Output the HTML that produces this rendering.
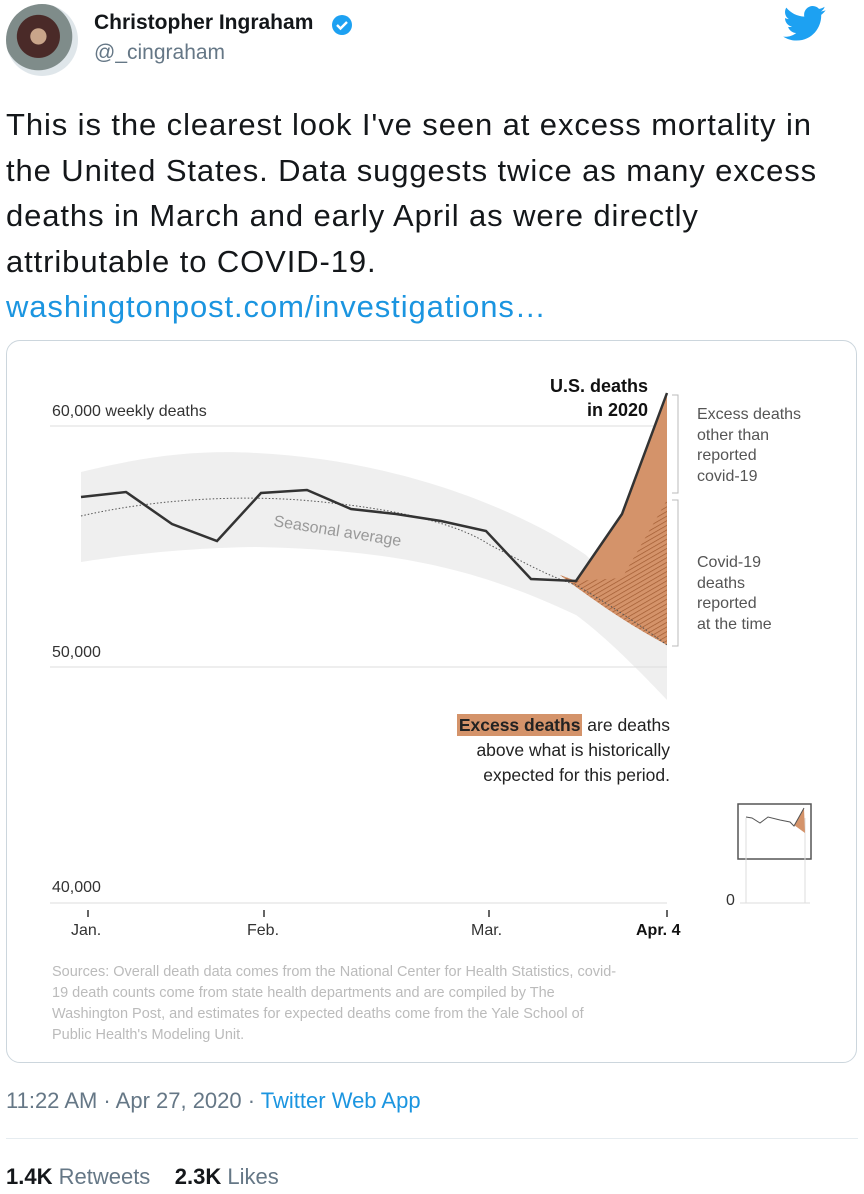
<!DOCTYPE html>
<html><head><meta charset="utf-8"><style>
body{margin:0;width:864px;height:1194px;background:#fff;font-family:"Liberation Sans",sans-serif;position:relative;overflow:hidden}
.a{position:absolute;white-space:nowrap}
</style></head><body>
<div class="a" style="left:6px;top:4px;width:72px;height:72px;border-radius:50%;background:radial-gradient(circle at 45% 45%,#c9a58a 0 14%,#4a2a28 15% 38%,#7f8c8a 39% 60%,#dfe6ea 61%)"></div>
<div class="a" style="left:94px;top:11px;font-size:21px;font-weight:bold;color:#14171a">Christopher Ingraham</div>
<svg class="a" style="left:331px;top:14px" width="22" height="22" viewBox="0 0 22 22"><circle cx="11" cy="11" r="10" fill="#1da1f2"/><path d="M6 11l3.5 3.5L16 8" stroke="#fff" stroke-width="2.4" fill="none"/></svg>
<div class="a" style="left:94px;top:41px;font-size:21px;color:#657786">@_cingraham</div>
<svg class="a" style="left:783px;top:6px" width="44" height="36" viewBox="0 0 24 20"><path fill="#1da1f2" d="M23.6 2.3c-.9.4-1.8.6-2.8.8 1-.6 1.8-1.6 2.1-2.7-.9.6-2 1-3.1 1.200C18.9.6 17.6 0 16.3 0c-2.7 0-4.8 2.2-4.800 4.8 0 .4 0 .8.1 1.1C7.5 5.7 4 3.8 1.6.9c-.4.7-.7 1.6-.7 2.4 0 1.7.9 3.2 2.2 4-.8 0-1.5-.2-2.2-.6v.1c0 2.3 1.7 4.3 3.9 4.7-.4.1-.8.2-1.3.2-.3 0-.6 0-.9-.1.6 1.900 2.4 3.3 4.5 3.4-1.7 1.3-3.7 2.1-6 2.1-.4 0-.8 0-1.2-.1 2.1 1.4 4.7 2.2 7.4 2.2 8.9 0 13.700-7.4 13.7-13.7v-.6c.9-.7 1.8-1.6 2.4-2.5z"/></svg>
<div class="a" style="left:6px;top:102px;font-size:31px;line-height:45.5px;color:#14171a;letter-spacing:0.9px">This is the clearest look I've seen at excess mortality in<br>the United States. Data suggests twice as many excess<br>deaths in March and early April as were directly<br>attributable to COVID-19.<br><span style="color:#1b95e0">washingtonpost.com/investigations…</span></div>
<div class="a" style="left:6px;top:340px;width:849px;height:721px;border:1px solid #ccd6dd;border-radius:14px"></div>
<svg class="a" style="left:0;top:0" width="864" height="1194">
<defs><pattern id="h" width="4" height="4" patternUnits="userSpaceOnUse" patternTransform="rotate(60)"><rect width="4" height="4" fill="#d4936a"/><line x1="0" y1="0" x2="0" y2="4" stroke="#a05a30" stroke-width="1.4"/></pattern></defs>
<path d="M81 472 C150 455 200 450 256 453 C400 460 520 510 586 555 L667 640 L667 700 C620 650 590 625 576 615 C480 570 400 550 256 547 C180 548 120 556 81 562Z" fill="#efefef"/>
<line x1="50" y1="426" x2="667" y2="426" stroke="#ddd"/>
<line x1="50" y1="667" x2="667" y2="667" stroke="#ddd"/>
<line x1="50" y1="903" x2="667" y2="903" stroke="#ddd"/>
<path d="M560 575 L576 581 L622 514 L667 393 L667 645 C630 625 600 605 560 575Z" fill="#d4936a"/>
<path d="M560 575 L576 581 L622 578 L667 500 L667 645 C630 625 600 605 560 575Z" fill="url(#h)"/>
<path d="M81 516 C150 500 230 495 300 500 C400 508 460 525 490 545 C520 560 545 575 576 585 C610 605 640 625 667 645" fill="none" stroke="#555" stroke-width="1" stroke-dasharray="1.5 2"/>
<polyline points="81,497 126,492 172,524 217,541 261,493 307,490 351,509 396,514 441,521 486,531 531,579 576,581 622,514 667,393" fill="none" stroke="#333" stroke-width="2.5"/>
<text x="273" y="526" font-size="16" fill="#999" transform="rotate(9 273 526)" font-family="Liberation Sans">Seasonal average</text>
<path d="M672 395 H678 V493 H672 M672 500 H678 V646 H672" fill="none" stroke="#bbb"/>
<g stroke="#333" stroke-width="1.5"><line x1="88" y1="910" x2="88" y2="917"/><line x1="264" y1="910" x2="264" y2="917"/><line x1="489" y1="910" x2="489" y2="917"/><line x1="667" y1="910" x2="667" y2="917"/></g>
<rect x="738" y="804" width="73" height="55" fill="none" stroke="#555" stroke-width="1.5"/>
<line x1="746" y1="818" x2="746" y2="903" stroke="#ddd"/><line x1="805" y1="818" x2="805" y2="903" stroke="#ddd"/><line x1="740" y1="903" x2="810" y2="903" stroke="#ddd"/>
<path d="M794 825 L804 808 L805 833Z" fill="#d4936a"/>
<polyline points="746,817 752,818 760,823 768,817 780,820 790,822 794,826 804,808" fill="none" stroke="#555" stroke-width="1"/>
</svg>
<div class="a" style="left:52px;top:403px;font-size:16px;color:#333">60,000 weekly deaths</div>
<div class="a" style="left:52px;top:644px;font-size:16px;color:#333">50,000</div>
<div class="a" style="left:52px;top:879px;font-size:16px;color:#333">40,000</div>
<div class="a" style="left:726px;top:892px;font-size:16px;color:#333">0</div>
<div class="a" style="left:528px;top:374px;font-size:18px;font-weight:bold;color:#111;text-align:right;line-height:24px;width:120px">U.S. deaths<br>in 2020</div>
<div class="a" style="left:697px;top:405px;font-size:16px;color:#555;line-height:20.5px">Excess deaths<br>other than<br>reported<br>covid-19</div>
<div class="a" style="left:697px;top:553px;font-size:16px;color:#555;line-height:20.5px">Covid-19<br>deaths<br>reported<br>at the time</div>
<div class="a" style="left:400px;top:713px;width:270px;font-size:17.5px;color:#222;text-align:right;line-height:25px"><span style="background:#d4936a;font-weight:bold;padding:1px 2px">Excess deaths</span> are deaths<br>above what is historically<br>expected for this period.</div>
<div class="a" style="left:71px;top:922px;font-size:16px;color:#333">Jan.</div>
<div class="a" style="left:247px;top:922px;font-size:16px;color:#333">Feb.</div>
<div class="a" style="left:471px;top:922px;font-size:16px;color:#333">Mar.</div>
<div class="a" style="left:636px;top:922px;font-size:16px;font-weight:bold;color:#111">Apr. 4</div>
<div class="a" style="left:52px;top:962px;font-size:14.5px;color:#bbb;line-height:21px">Sources: Overall death data comes from the National Center for Health Statistics, covid-<br>19 death counts come from state health departments and are compiled by The<br>Washington Post, and estimates for expected deaths come from the Yale School of<br>Public Health's Modeling Unit.</div>
<div class="a" style="left:6px;top:1088px;font-size:22px;color:#657786">11:22 AM · Apr 27, 2020 · <span style="color:#1b95e0">Twitter Web App</span></div>
<div class="a" style="left:6px;top:1138px;width:852px;height:1px;background:#e6ecf0"></div>
<div class="a" style="left:6px;top:1164px;font-size:22px;color:#657786"><b style="color:#14171a">1.4K</b> Retweets &nbsp;&nbsp; <b style="color:#14171a">2.3K</b> Likes</div>
</body></html>
